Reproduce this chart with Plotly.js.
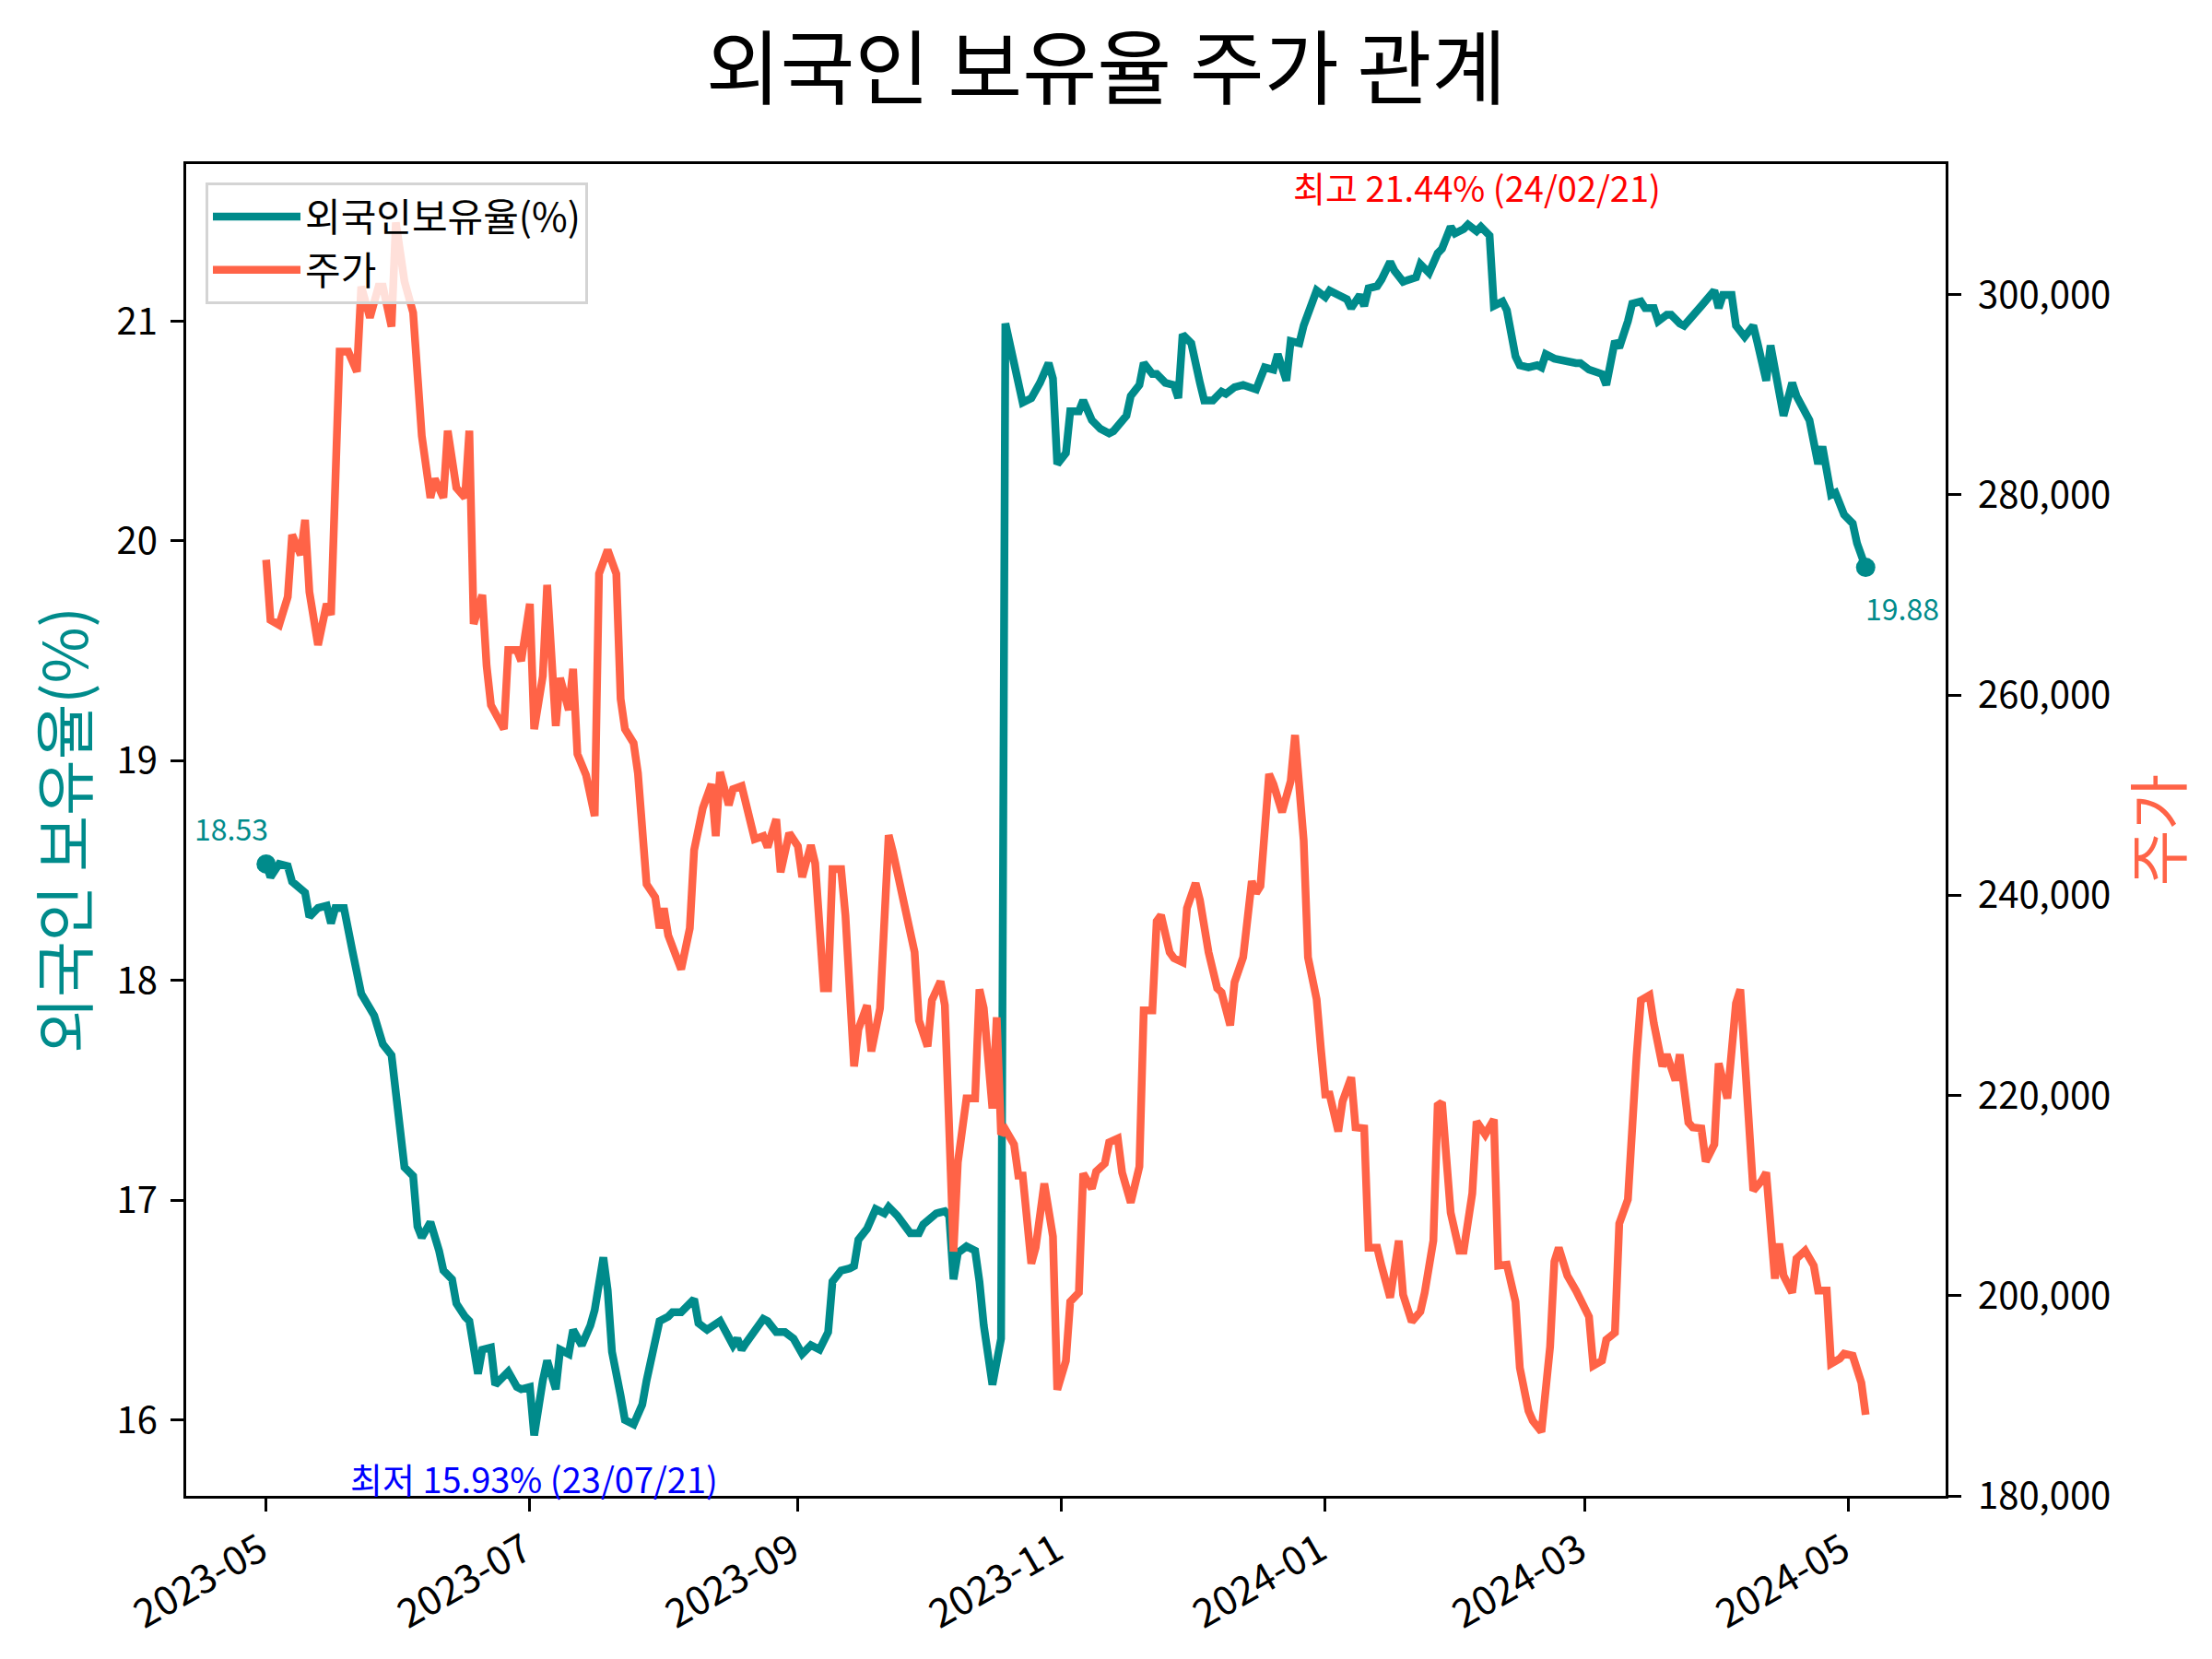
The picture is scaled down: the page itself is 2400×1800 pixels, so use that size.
<!DOCTYPE html>
<html>
<head>
<meta charset="utf-8">
<script src="https://cdn.plot.ly/plotly-3.0.1.min.js"></script>
<style>html,body{margin:0;padding:0;background:#ffffff;}</style>
</head>
<body>
<div id="chart" style="width:2400px;height:1800px"></div>
<script>
// ---- data ----
const startDate = '2023-05-01';            // day 0
const chartTitle = '외국인 보유율 주가 관계';
const holdingName = '외국인보유율(%)';
const priceName = '주가';
const leftAxisTitle = '외국인 보유율(%)';
const rightAxisTitle = '주가';
const minLabel = '최저 15.93% (23/07/21)';
const maxLabel = '최고 21.44% (24/02/21)';

// foreign holding rate (%), day offsets from startDate
const holdingDays = [
  0,1,3,5,6,8,9,10,12,14,
  15,16,18,20,22,25,27,29,32,34,
  35,36,38,40,41,43,44,46,47,49,
  50,52,53,55,56,58,59,61,62,64,
  65,67,68,70,71,73,75,76,78,79,
  80,82,83,85,87,88,90,91,93,94,
  96,99,100,102,105,108,109,110,111,113,
  115,116,118,120,122,124,126,128,130,131,
  133,135,136,137,139,141,143,144,146,149,
  151,152,155,157,158,159,160,162,164,165,
  166,168,170,171,173,174,175,177,179,181,
  182,183,185,186,188,189,191,193,195,196,
  199,200,202,203,205,206,208,210,211,212,
  214,216,217,219,221,222,224,226,229,231,
  233,234,236,237,239,240,242,243,245,246,
  248,250,251,253,254,255,257,258,260,261,
  263,266,267,269,271,272,274,275,277,278,
  280,281,283,284,286,287,289,290,292,294,
  295,296,298,300,303,304,306,309,310,312,
  313,315,316,318,319,321,322,324,325,327,
  328,332,335,336,337,339,340,342,344,345,
  347,348,351,353,354,357,359,360,362,363,
  365,367,368,370
];
const holdingRate = [
  18.53,18.47,18.53,18.52,18.45,18.42,18.40,18.29,18.33,18.34,
  18.26,18.33,18.33,18.13,17.94,17.84,17.71,17.66,17.15,17.11,
  16.88,16.83,16.90,16.77,16.68,16.64,16.53,16.47,16.45,16.21,
  16.32,16.33,16.16,16.20,16.22,16.15,16.14,16.15,15.93,16.18,
  16.27,16.14,16.32,16.30,16.41,16.34,16.43,16.50,16.74,16.59,
  16.31,16.11,16.00,15.98,16.07,16.18,16.36,16.45,16.47,16.49,
  16.49,16.55,16.44,16.41,16.45,16.34,16.37,16.32,16.35,16.41,
  16.46,16.45,16.40,16.40,16.37,16.30,16.34,16.32,16.40,16.63,
  16.68,16.69,16.70,16.82,16.87,16.96,16.94,16.97,16.93,16.85,
  16.85,16.89,16.94,16.95,16.93,16.64,16.76,16.79,16.77,16.63,
  16.43,16.16,16.37,20.99,20.80,20.71,20.63,20.65,20.72,20.81,
  20.74,20.35,20.40,20.59,20.59,20.64,20.55,20.51,20.49,20.50,
  20.57,20.66,20.71,20.81,20.76,20.76,20.72,20.71,20.65,20.94,
  20.90,20.72,20.64,20.64,20.68,20.67,20.70,20.71,20.69,20.79,
  20.78,20.85,20.73,20.91,20.90,20.98,21.10,21.14,21.11,21.14,
  21.12,21.10,21.06,21.12,21.07,21.15,21.16,21.19,21.27,21.23,
  21.18,21.20,21.26,21.22,21.31,21.33,21.43,21.40,21.42,21.44,
  21.41,21.43,21.39,21.07,21.09,21.05,20.84,20.80,20.79,20.80,
  20.79,20.85,20.83,20.82,20.81,20.81,20.78,20.76,20.71,20.91,
  20.88,21.00,21.08,21.09,21.06,21.06,21.00,21.03,21.03,20.99,
  20.98,21.07,21.14,21.06,21.12,21.12,20.98,20.93,20.98,20.90,
  20.73,20.89,20.57,20.72,20.66,20.55,20.35,20.43,20.21,20.22,
  20.12,20.08,19.99,19.88
];

// stock price (KRW), day offsets from startDate
const priceDays = [
  0,1,3,5,6,8,9,10,12,14,
  15,17,19,21,22,24,26,27,29,30,
  32,34,36,38,39,41,42,44,46,47,
  48,50,51,52,55,56,58,59,61,62,
  64,65,67,68,70,71,72,74,76,77,
  79,81,82,83,85,86,88,90,91,92,
  93,95,96,98,99,101,103,104,105,107,
  108,110,111,113,115,116,118,119,121,123,
  124,126,127,129,130,131,133,134,136,137,
  139,140,142,144,145,147,148,150,151,153,
  154,156,157,159,160,162,164,165,166,168,
  169,170,171,173,174,175,177,178,180,182,
  183,185,186,188,189,191,192,194,195,197,
  198,200,202,203,205,206,207,209,210,212,
  213,215,216,218,220,221,223,224,226,228,
  229,230,232,233,235,237,238,239,240,241,
  243,244,245,246,248,249,251,252,254,255,
  257,258,260,262,263,265,267,268,270,271,
  272,274,276,277,279,280,282,284,285,287,
  289,290,292,293,295,297,298,299,301,303,
  304,306,307,309,310,312,313,315,317,318,
  320,321,323,324,326,327,329,330,332,333,
  335,336,338,340,341,343,344,346,347,349,
  350,351,353,354,356,358,359,361,362,364,
  365,367,369,370
];
const stockPrice = [
  273500,267500,267000,269800,276000,274000,277500,270300,265000,269100,
  268000,294300,294300,292300,300800,297700,300800,300800,296800,307200,
  301300,298200,285900,279700,281600,279700,286400,280700,279700,286400,
  267100,270000,262900,259000,256600,264500,264500,263400,269100,256600,
  261900,271000,256900,261700,258500,262600,254100,252000,247900,272100,
  274500,272100,259600,256600,255200,252200,241100,239800,236700,238700,
  236000,234000,232600,236700,244500,248700,251100,245900,252300,249000,
  250600,250900,249100,245600,245900,244800,247600,242300,246200,244900,
  241800,245000,243200,230700,230700,242600,242600,238000,222900,226600,
  229000,224400,228700,246000,244300,239900,237700,234300,227500,224900,
  229500,231400,229000,204400,213300,219700,219700,230600,228700,218700,
  227800,216100,216600,215100,212000,212000,203200,204800,211200,205900,
  190600,193500,199400,200300,212200,210700,212400,213200,215300,215700,
  212300,209300,212900,228500,228500,237400,238000,234300,233700,233300,
  238700,241200,239500,234300,230700,230300,227000,231300,233800,241400,
  240200,240900,252100,251100,248300,251400,256000,250100,245500,233800,
  229600,224600,220100,220100,216400,219400,221800,216800,216700,204800,
  204800,203000,199800,205500,200100,197400,198400,200300,205500,219000,
  219300,208300,204500,204500,210200,217400,216100,217600,203000,203100,
  199400,192800,188500,187500,186400,194900,203400,204800,202000,200500,
  199600,197900,193000,193500,195600,196300,207200,209600,223900,229500,
  230000,227200,222900,224100,221500,224100,217300,216800,216700,213400,
  215100,223200,219700,229200,230600,216600,210500,211500,212300,201700,
  205200,202000,200300,203700,204500,203000,200500,200500,193200,193700,
  194200,194000,191300,188100
];

// axis ticks
const xTickDates = ['2023-05-01','2023-07-01','2023-09-01','2023-11-01','2024-01-01','2024-03-01','2024-05-01'];
const xTickLabels = ['2023-05','2023-07','2023-09','2023-11','2024-01','2024-03','2024-05'];
const leftTicks = [16,17,18,19,20,21];
const rightTicks = [180000,200000,220000,240000,260000,280000,300000];
const rightTickLabels = ['180,000','200,000','220,000','240,000','260,000','280,000','300,000'];

// ---- build ----
const TEAL = '#008B8B', TOMATO = '#FF6347';
const FONT = '"Noto Sans CJK KR", "Noto Sans", sans-serif';
const DAY = 86400000;
const base = Date.parse(startDate + 'T00:00:00Z');
function dayToDate(d){ return new Date(base + d*DAY).toISOString().slice(0,19).replace('T',' '); }

const hx = holdingDays.map(dayToDate);
const px = priceDays.map(dayToDate);
const nH = holdingRate.length;

let iMin = 0, iMax = 0;
holdingRate.forEach((v,i)=>{ if(v < holdingRate[iMin]) iMin = i; if(v > holdingRate[iMax]) iMax = i; });

const dMin = Math.min(holdingDays[0], priceDays[0]);
const dMax = Math.max(holdingDays[nH-1], priceDays[priceDays.length-1]);
const pad = (dMax - dMin)*0.05;

const traces = [
  {x: hx, y: holdingRate, type:'scatter', mode:'lines', name: holdingName,
   line:{color:TEAL, width:8.5}, yaxis:'y'},
  {x: [hx[0], hx[nH-1]], y:[holdingRate[0], holdingRate[nH-1]], type:'scatter', mode:'markers',
   marker:{color:TEAL, size:21}, showlegend:false, hoverinfo:'skip', yaxis:'y'},
  {x: px, y: stockPrice, type:'scatter', mode:'lines', name: priceName,
   line:{color:TOMATO, width:8.5}, yaxis:'y2'}
];

const axisCommon = {
  showgrid:false, zeroline:false, showline:true, linecolor:'#000', linewidth:3,
  ticks:'outside', ticklen:14, tickwidth:3, tickcolor:'#000',
  tickfont:{family:FONT, size:40, color:'#000'}
};

const layout = {
  width:2400, height:1800,
  paper_bgcolor:'#ffffff', plot_bgcolor:'#ffffff',
  margin:{l:202, r:289, t:178, b:177},
  font:{family:FONT, color:'#000'},
  title:{text: chartTitle, x:0.5, xref:'container', xanchor:'center',
         y:1-75/1800, yref:'container', yanchor:'middle',
         font:{family:FONT, size:88, color:'#000'}},
  showlegend:true,
  legend:{x:0.011, y:0.986, xanchor:'left', yanchor:'top',
          bgcolor:'rgba(255,255,255,0.8)', bordercolor:'#d4d4d4', borderwidth:3,
          itemwidth:95,
          font:{family:FONT, size:42, color:'#000'}, tracegroupgap:0},
  xaxis: Object.assign({}, axisCommon, {
    type:'date', range:[dayToDate(dMin-pad), dayToDate(dMax+pad)],
    tickmode:'array', tickvals:xTickDates, ticktext:xTickLabels, tickangle:-30,
    tickfont:{family:FONT, size:43, color:'#000'},
    mirror:true, ticklabelstandoff:0, ticklabelshift:-6
  }),
  yaxis: Object.assign({}, axisCommon, {
    range:[15.6545, 21.7155], tickmode:'array', tickvals:leftTicks,
    ticktext: leftTicks.map(String), ticklabelstandoff:6,
    title:{text:leftAxisTitle, font:{family:FONT, size:66, color:TEAL}, standoff:10}
  }),
  yaxis2: Object.assign({}, axisCommon, {
    overlaying:'y', side:'right', range:[180000, 313036],
    tickmode:'array', tickvals:rightTicks, ticktext:rightTickLabels, ticklabelstandoff:10,
    title:{text:rightAxisTitle, font:{family:FONT, size:66, color:TOMATO}, standoff:16}
  }),
  annotations:[
    {x:hx[0], y:holdingRate[0], xref:'x', yref:'y', text:holdingRate[0].toFixed(2),
     showarrow:false, xanchor:'right', yanchor:'bottom', xshift:4, yshift:14,
     font:{family:FONT, size:32, color:TEAL}},
    {x:hx[nH-1], y:holdingRate[nH-1], xref:'x', yref:'y', text:holdingRate[nH-1].toFixed(2),
     showarrow:false, xanchor:'left', yanchor:'top', xshift:-2, yshift:-18,
     font:{family:FONT, size:32, color:TEAL}},
    {x:hx[iMin], y:holdingRate[iMin], xref:'x', yref:'y', text:minLabel,
     showarrow:false, xanchor:'center', yanchor:'top', yshift:-17,
     font:{family:FONT, size:38, color:'#0000FF'}},
    {x:hx[iMax], y:holdingRate[iMax], xref:'x', yref:'y', text:maxLabel,
     showarrow:false, xanchor:'center', yanchor:'bottom', xshift:10, yshift:12,
     font:{family:FONT, size:38, color:'#FF0000'}}
  ]
};

Plotly.newPlot('chart', traces, layout, {displayModeBar:false, staticPlot:true});
</script>
</body>
</html>
